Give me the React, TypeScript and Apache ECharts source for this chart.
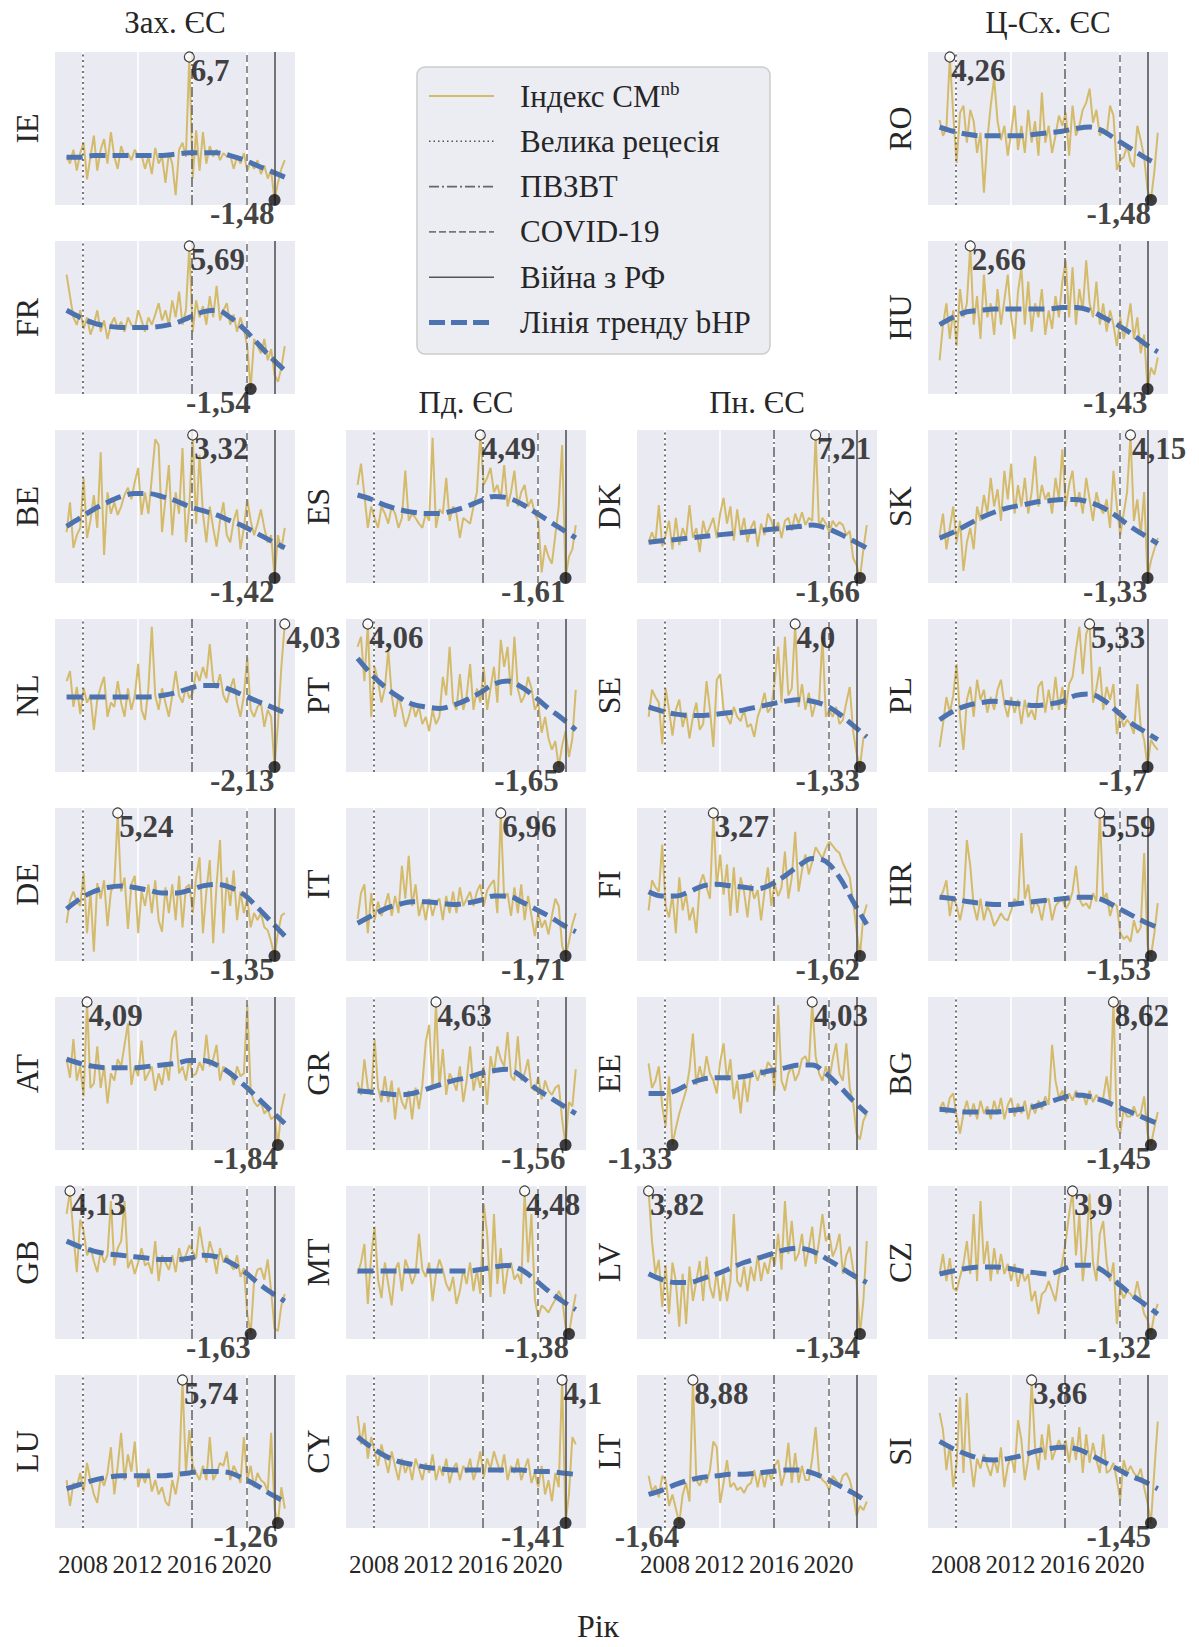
import React, { useEffect, useRef } from 'react';
import * as echarts from 'echarts';

const SERIF = '"Liberation Serif", "Times New Roman", serif';

// Time axis: quarterly observations and yearly trend knots
const QUARTERS: number[] = Array.from({ length: 65 }, (_, i) => 2006.8 + 0.25 * i);
const TREND_YEARS: number[] = Array.from({ length: 17 }, (_, i) => 2006.8 + i);
const TICK_YEARS = [2008, 2012, 2016, 2020];
const X_MIN = 2005.95;
const X_MAX = 2023.55;

// Event markers
const RECESSION_YEAR = 2008.0;
const PVZVT_YEAR = 2016.0;
const COVID_YEAR = 2020.0;
const WAR_YEAR = 2022.05;

// ---- Western EU ----
const IE = [1.0,0.6,1.4,0.2,1.2,1.8,-0.3,1.0, 2.2,0.2,1.4,2.0,0.6,2.4,1.0,0.3, 1.6,1.0,1.2,0.8,1.4,1.0,1.1,0.3, 1.0,0.0,1.5,0.6,1.0,-0.5,1.2,0.6, -1.2,1.4,1.8,1.0,6.7,-0.25,2.5,0.2, 2.4,0.6,1.6,1.0,1.4,0.8,1.2,1.0, 1.1,0.3,1.0,0.6,1.2,0.2,0.7,0.3, 0.8,0.0,0.5,-0.25,0.2,-1.48,-0.5,0.3, 0.8];
const IE_T = [0.97,0.97,1.06,1.06,1.06,1.06,1.06,1.06,1.14,1.22,1.22,1.22,1.06,0.81,0.48,0.16,-0.17];
const FR = [4.24,3.16,2.08,1.71,2.44,1.5,2.08,1.21, 1.71,2.44,1.35,1.93,0.99,1.71,2.08,1.5, 1.86,1.35,2.08,1.71,1.5,2.44,1.93,1.35, 2.08,1.71,2.22,2.8,1.93,2.44,1.71,2.94, 2.08,3.38,1.71,2.44,5.69,1.35,2.94,2.08, 2.65,1.71,3.16,2.08,3.67,1.93,2.44,2.8, 1.71,2.22,1.35,2.08,1.5,0.63,-1.54,0.99, 0.63,0.27,0.99,-0.09,0.48,-0.82,-1.18,-0.46, 0.63];
const FR_T = [2.44,2.08,1.79,1.64,1.57,1.57,1.57,1.64,1.79,2.08,2.36,2.44,2.08,1.5,0.77,0.05,-0.6];
const BE = [0.1,1.09,-0.42,0.0,0.24,1.9,-0.09,0.48, 1.33,0.24,2.75,-0.66,1.42,0.71,1.09,0.67, 0.95,1.33,1.57,1.19,1.76,2.23,0.67,1.42, 0.71,1.9,3.18,2.99,0.1,1.19,2.32,0.0, 1.42,0.71,2.89,-0.24,0.95,3.32,0.38,2.66, 0.71,-0.24,0.95,0.24,-0.38,0.48,1.09,0.0, -0.24,0.48,0.85,-0.47,0.24,1.19,0.48,0.0, 0.38,0.85,0.24,-0.24,0.0,-1.42,0.0,-0.47, 0.24];
const BE_T = [0.29,0.57,0.86,1.09,1.28,1.38,1.38,1.28,1.14,0.95,0.81,0.67,0.48,0.29,0.05,-0.19,-0.42];
const NL = [1.57,2.0,0.46,1.32,0.15,1.26,0.64,0.95, -0.53,0.77,1.32,1.75,0.03,0.64,0.46,1.57, 0.64,0.03,1.26,0.33,0.95,2.31,0.33,-0.1, 1.26,3.91,0.95,0.33,1.26,0.64,0.03,0.95, 2.0,0.95,0.64,1.32,0.83,1.07,2.0,1.57, 2.18,1.69,3.17,1.57,1.26,1.87,0.95,0.64, 1.26,1.69,0.64,0.03,0.95,2.61,0.33,0.03, 0.46,0.64,-0.4,0.33,0.03,-2.13,-0.28,2.18, 4.03];
const NL_T = [0.89,0.89,0.89,0.89,0.89,0.89,0.89,0.95,1.07,1.26,1.38,1.38,1.2,0.95,0.7,0.46,0.21];
const DE = [0.17,1.22,1.62,1.15,0.96,2.47,-0.3,1.62, -1.15,2.01,1.29,2.14,0.03,1.62,1.95,5.24, 1.62,2.27,-0.1,1.95,2.34,-0.3,1.62,0.96, 1.95,0.63,2.14,0.3,-0.23,1.81,0.63,1.95, 0.3,2.34,-0.03,1.81,1.95,0.63,2.27,3.2, -0.3,1.62,3.07,-0.76,1.95,3.99,-0.3,2.27, 0.96,2.6,0.3,1.62,0.63,1.29,-0.03,0.63, 0.3,0.63,-0.03,-0.16,-0.69,-1.35,-0.3,0.5, 0.63];
const DE_T = [0.82,1.29,1.62,1.81,1.88,1.81,1.68,1.55,1.55,1.68,1.88,1.95,1.81,1.48,0.89,0.23,-0.43];
const AT = [1.72,0.95,2.55,0.83,1.42,0.18,4.09,0.53, 0.71,2.25,0.53,1.42,-0.12,1.13,0.83,1.72, 1.42,2.31,3.2,0.65,1.42,1.01,2.49,0.83, 1.13,1.42,0.41,1.13,0.65,1.6,0.83,2.55, 2.9,1.13,1.42,0.83,1.72,1.01,1.13,1.6, 1.24,2.73,1.42,1.72,2.31,0.83,1.42,1.13, 1.24,0.65,1.42,1.01,1.13,3.97,0.41,-0.06, -0.24,-0.06,-0.54,-0.36,-0.77,-0.65,-1.84,-0.36, 0.29];
const AT_T = [1.72,1.54,1.42,1.36,1.36,1.36,1.42,1.48,1.54,1.66,1.66,1.48,1.13,0.65,0.12,-0.42,-0.95];
const GB = [3.21,4.13,2.4,0.86,2.98,2.52,1.54,1.83, 1.31,0.86,1.71,1.25,1.54,3.73,1.13,1.83, 2.11,3.73,1.02,1.37,0.79,1.25,1.83,1.13, 1.25,0.79,2.11,0.5,1.54,1.25,0.96,1.54, 0.86,1.83,1.25,1.54,1.94,1.71,1.42,2.69, 1.83,1.25,2.11,1.6,0.79,1.83,1.25,1.54, 1.19,0.96,1.54,0.67,1.02,-0.82,-1.63,0.5, 0.96,1.02,0.56,1.37,0.1,-1.4,-1.51,-0.48, -0.02];
const GB_T = [2.11,1.88,1.71,1.6,1.54,1.48,1.42,1.37,1.37,1.42,1.54,1.48,1.25,0.9,0.44,0.04,-0.31];
const LU = [0.84,-0.42,0.7,0.49,1.19,0.28,1.68,0.84, 0.14,-0.28,0.98,0.56,1.19,2.45,0.14,1.54, 3.15,0.84,2.1,1.26,2.73,0.49,1.19,0.7, 1.4,0.28,0.84,0.14,0.49,-0.21,-0.42,0.84, 0.14,1.19,5.74,1.19,3.29,1.54,1.19,0.84, 1.54,0.84,2.94,0.84,1.19,1.68,1.54,2.24, 0.84,1.54,1.19,0.7,2.94,0.84,1.54,0.49, 1.19,0.84,0.7,0.28,3.15,-0.56,-1.26,0.49, -0.56];
const LU_T = [0.42,0.63,0.84,0.98,1.05,1.05,1.05,1.05,1.12,1.19,1.26,1.26,1.19,0.91,0.56,0.14,-0.21];

// ---- Southern EU ----
const ES = [2.36,3.27,1.93,0.53,1.44,0.95,0.53,1.44, 1.14,0.71,1.44,1.14,0.53,0.95,2.97,0.83, 1.14,0.95,0.71,0.53,1.14,0.83,4.37,0.53, 1.32,1.14,2.66,0.83,1.44,1.14,0.1,0.95, 0.83,0.71,1.44,2.05,4.49,2.36,2.66,3.09, 2.05,2.36,1.75,3.21,1.44,2.05,2.97,1.44, 2.05,2.36,1.44,1.75,1.14,0.83,-1.37,-0.21, -0.7,-1.0,0.22,1.44,4.06,-1.61,-0.7,-0.39, 0.65];
const ES_T = [1.93,1.75,1.5,1.32,1.2,1.14,1.14,1.26,1.44,1.68,1.87,1.81,1.56,1.2,0.83,0.46,0.1];
const PT = [3.15,3.55,1.78,4.06,0.35,2.35,1.78,0.92, 1.49,3.03,1.21,0.35,1.21,0.63,-0.05,0.35, 0.92,0.35,0.75,0.06,0.35,-0.22,0.63,0.06, 0.35,1.95,1.21,3.15,0.92,0.63,2.06,0.63, 1.21,2.46,0.63,1.49,0.92,2.35,0.63,1.49, 2.35,0.92,3.43,2.35,3.15,1.21,3.55,1.49, 0.92,1.21,1.95,1.49,0.63,0.92,-0.28,0.35, -0.51,-0.96,-0.62,-1.65,-0.79,-0.22,-1.25,-0.51, 1.43];
const PT_T = [2.69,2.06,1.55,1.15,0.86,0.75,0.69,0.81,1.03,1.32,1.66,1.78,1.55,1.15,0.69,0.29,-0.17];
const IT = [0.54,2.1,2.63,-0.32,2.1,0.46,1.58,0.72, 1.32,2.1,0.72,1.93,0.89,3.75,1.76,4.36, 1.32,2.63,0.72,1.58,0.46,1.76,0.72,1.58, 1.76,0.46,1.93,0.89,2.19,0.89,2.45,1.32, 1.76,2.19,1.32,2.19,2.63,1.32,2.28,2.63, 2.89,0.89,6.96,1.76,2.1,0.72,2.45,0.89, 2.63,0.46,1.93,0.72,-0.5,0.89,0.02,0.46, -0.41,0.72,1.76,1.32,-1.1,-1.71,-0.84,0.2, 0.89];
const IT_T = [0.28,0.72,1.15,1.41,1.58,1.58,1.5,1.41,1.5,1.67,1.93,1.93,1.58,1.15,0.72,0.2,-0.24];
const GR = [1.16,0.61,2.15,0.92,0.61,3.02,0.92,0.3, 1.41,0.3,1.23,-0.45,0.92,0.3,-0.01,0.79, -0.45,0.92,-0.01,1.04,2.9,3.64,0.92,4.63, 0.92,2.59,0.61,1.54,1.23,0.79,1.84,0.3, 1.23,2.71,0.79,1.54,0.92,1.84,0.17,2.28, 1.54,2.71,2.15,1.84,3.33,1.41,1.23,3.14, 1.23,1.54,2.15,0.92,0.79,1.41,0.42,1.23, 0.79,0.61,0.92,1.04,-0.45,-1.56,0.3,0.11, 1.72];
const GR_T = [0.79,0.73,0.67,0.61,0.67,0.85,1.04,1.23,1.35,1.54,1.66,1.72,1.41,0.92,0.54,0.17,-0.2];
const MT = [1.08,1.55,2.31,-0.15,1.84,3.02,0.85,0.09, 1.55,0.67,-0.21,1.26,1.55,0.38,1.67,1.26, 0.67,1.08,2.72,1.26,0.96,1.55,-0.03,1.08, 1.67,1.26,0.67,0.38,0.96,-0.15,0.38,1.26, 0.67,1.55,0.38,1.26,0.26,3.95,2.72,0.14, 3.54,0.67,2.14,0.26,1.26,1.55,0.85,1.08, 0.67,4.48,1.55,3.54,0.03,-0.68,-0.21,-0.33, -0.5,-0.21,0.03,0.38,0.09,-1.09,-1.38,-0.5, 0.26];
const MT_T = [1.2,1.2,1.2,1.2,1.2,1.2,1.2,1.2,1.2,1.26,1.37,1.43,1.26,0.85,0.38,-0.03,-0.38];
const CY = [2.72,1.62,2.45,1.07,1.9,1.35,0.79,1.62, 1.07,0.52,1.35,0.79,0.24,1.07,0.52,0.9, 0.24,1.07,0.68,0.24,0.9,0.52,1.23,0.24, 0.79,0.41,1.07,0.13,0.68,0.9,0.24,0.79, 0.52,1.07,0.24,0.68,1.35,0.35,1.07,0.68, 1.35,0.9,0.52,1.23,0.24,0.79,0.52,1.07, 0.24,0.68,1.07,0.13,0.52,-0.03,0.79,-0.31, 0.24,-0.58,0.52,-0.03,4.1,-1.41,-0.31,1.9, 1.62];
const CY_T = [1.9,1.51,1.18,0.96,0.85,0.74,0.68,0.63,0.63,0.63,0.63,0.63,0.63,0.57,0.57,0.52,0.46];

// ---- Northern EU ----
const DK = [0.56,1.18,0.56,2.86,0.29,1.0,1.89,0.11, 2.07,0.38,1.44,0.82,2.86,0.82,1.44,-0.06, 1.89,1.0,1.53,2.07,0.82,2.33,3.31,1.71, 2.78,0.65,2.6,1.0,2.07,0.56,1.44,1.89, 0.29,1.71,1.0,2.33,1.89,1.18,1.8,0.82, 1.89,2.07,1.27,2.33,1.71,2.42,1.62,2.07, 1.89,7.21,1.44,2.07,1.71,1.18,1.89,1.53, 1.8,1.62,1.0,1.27,-0.42,-0.86,-1.66,0.11, 1.62];
const DK_T = [0.56,0.65,0.73,0.82,0.91,1.0,1.09,1.18,1.27,1.36,1.44,1.53,1.62,1.44,1.09,0.65,0.2];
const SE = [0.54,1.55,1.28,1.07,-0.48,1.6,0.8,-0.16, 0.8,1.18,0.16,0.7,-0.26,0.54,1.07,0.06, 0.27,1.87,0.8,-0.58,1.92,2.13,0.8,0.54, 0.27,0.91,0.54,0.38,0.8,0.16,0.27,-0.21, 0.54,0.91,1.44,0.7,0.91,1.87,3.15,1.07, 3.52,1.34,1.6,4.0,0.91,1.76,0.8,1.44, 0.54,1.07,1.07,3.52,0.54,0.8,0.54,0.91, 0.27,0.43,1.07,1.65,0.0,-0.8,-1.33,-0.26, -0.1];
const SE_T = [0.91,0.75,0.64,0.59,0.59,0.64,0.7,0.8,0.91,1.02,1.12,1.18,1.12,0.96,0.64,0.22,-0.21];
const FI = [-0.06,0.97,0.73,0.58,2.19,0.09,-0.3,0.48, -0.84,1.07,-0.06,0.48,-0.4,0.04,-0.84,0.83, 1.17,0.73,0.34,3.27,0.73,1.85,0.48,1.51, -0.25,1.41,-0.15,1.07,0.58,-0.3,0.83,0.34, 0.63,-0.4,0.58,1.41,0.09,0.83,0.43,0.73, 1.95,0.34,1.07,2.63,0.58,1.31,1.85,1.17, 1.61,2.1,1.9,1.71,2.05,2.29,2.15,2.0, 1.9,1.56,1.31,1.07,0.24,-0.74,-1.62,-0.25, 0.14];
const FI_T = [0.58,0.43,0.43,0.58,0.78,0.83,0.78,0.73,0.68,0.83,1.12,1.46,1.71,1.61,1.07,0.24,-0.54];
const EE = [1.73,0.81,1.08,1.62,0.12,-0.63,1.24,-1.33, -0.69,-0.15,0.28,0.71,1.51,2.85,0.92,1.62, 1.08,2.0,1.35,1.08,0.6,1.78,2.48,1.08, 1.89,0.39,1.08,-0.15,1.19,0.28,1.35,1.46, 1.08,1.51,1.24,1.78,1.62,0.71,3.92,1.08, 0.71,1.35,1.62,1.08,1.35,1.89,2.0,1.62, 4.03,2.0,1.35,1.08,1.62,1.08,1.89,2.48, 1.35,1.08,2.48,0.81,0.28,-0.9,-1.12,-0.42, -0.15];
const EE_T = [0.6,0.6,0.71,0.97,1.14,1.19,1.19,1.24,1.35,1.46,1.56,1.67,1.67,1.35,0.87,0.33,-0.15];
const LV = [3.82,2.01,0.83,1.34,-0.36,1.14,-0.62,1.24, 0.57,-1.08,0.83,-0.98,1.09,-0.15,0.57,1.29, -0.15,1.45,0.36,-0.05,0.93,-0.15,0.83,-0.15, 0.57,2.99,0.57,0.36,1.09,0.21,1.09,0.57, 1.5,0.57,1.24,0.83,1.55,1.14,2.27,0.98, 3.46,1.55,2.74,1.29,1.55,2.27,1.09,1.76, 2.53,1.19,2.01,2.99,2.01,2.27,1.45,1.76, 2.27,0.83,1.5,1.81,0.98,0.57,-1.34,-0.15, 2.01];
const LV_T = [0.83,0.62,0.52,0.52,0.67,0.83,1.03,1.24,1.39,1.55,1.7,1.76,1.65,1.39,1.09,0.78,0.52];
const LT = [1.83,0.67,1.1,0.25,1.83,1.52,-0.38,0.46, -0.59,-1.64,0.46,1.31,-0.06,8.88,1.52,1.1, 1.83,1.31,2.25,4.36,3.94,-0.17,1.31,2.99, 0.99,1.31,0.78,0.99,0.57,1.1,1.31,2.25, 0.99,2.25,0.99,2.25,1.52,2.57,2.99,1.1, 2.04,4.25,1.31,3.51,1.31,2.57,1.52,1.52, 3.09,5.41,2.04,1.52,1.31,0.78,1.83,1.52, 1.1,1.83,2.04,1.52,0.46,-1.11,-0.38,-0.69, -0.06];
const LT_T = [0.46,0.78,1.2,1.52,1.73,1.83,1.94,1.94,2.04,2.15,2.25,2.25,2.04,1.62,1.1,0.57,-0.06];

// ---- Central-Eastern EU ----
const RO = [1.73,1.1,1.39,4.26,1.96,0.01,2.02,2.31, 0.82,2.14,1.68,0.41,1.22,-1.19,0.93,2.31, 3.4,1.68,0.93,1.5,0.3,1.22,2.31,0.53, 1.5,0.41,2.14,0.82,1.68,0.3,2.83,0.82, 1.5,0.41,1.1,1.91,1.5,2.02,0.3,2.31, 1.1,1.5,2.14,2.42,2.99,1.62,2.14,1.1, 1.39,1.1,2.31,1.91,-0.27,0.13,0.24,0.7, 0.07,-0.16,1.5,0.93,0.24,-1.08,-1.48,-0.33, 1.22];
const RO_T = [1.45,1.28,1.16,1.1,1.1,1.1,1.1,1.16,1.22,1.28,1.39,1.45,1.28,0.93,0.59,0.24,-0.05];
const HU = [-0.61,0.41,1.02,0.0,0.82,-0.2,1.43,0.62, 1.02,2.66,0.41,1.23,0.0,1.84,0.62,1.02, 0.12,1.43,0.41,1.11,1.84,0.62,0.0,1.35, 2.05,0.41,1.64,0.21,1.02,0.62,1.43,0.12, 0.82,0.29,1.23,0.62,1.64,2.25,0.62,2.05, 0.41,1.43,0.82,2.25,1.02,0.62,1.64,0.41, 1.02,0.21,0.82,0.41,-0.2,0.62,0.0,0.41, 1.02,0.0,0.62,-0.41,0.12,-1.43,-0.82,-1.02, -0.53];
const HU_T = [0.41,0.62,0.78,0.82,0.86,0.86,0.86,0.86,0.86,0.9,0.9,0.82,0.62,0.41,0.17,-0.12,-0.37];
const SK = [0.31,1.14,-0.23,0.59,1.41,0.04,0.86,-1.06, 0.04,0.59,-0.23,1.41,0.86,1.85,1.14,2.51, 1.41,2.07,0.86,2.78,1.68,3.05,1.14,2.23, 1.41,2.51,1.14,1.96,3.33,1.41,2.23,1.68, 1.96,1.14,2.51,1.68,3.6,1.41,2.23,2.78, 1.41,1.96,1.14,2.51,1.68,0.86,1.96,1.41, 1.14,1.68,0.59,2.78,1.41,0.31,1.14,1.96, 4.15,0.86,1.68,0.31,1.96,-1.33,-0.67,-0.23, 0.2];
const SK_T = [0.2,0.42,0.7,0.97,1.19,1.36,1.46,1.57,1.63,1.68,1.68,1.57,1.36,1.03,0.64,0.31,-0.01];
const PL = [-0.72,0.41,1.74,0.97,1.82,3.36,0.76,-0.86, 1.6,2.24,0.76,2.59,1.6,2.1,0.97,1.74, 1.11,2.1,2.59,1.39,0.76,1.74,0.97,1.6, 0.41,1.6,0.76,1.11,0.62,2.24,2.52,0.97, 2.1,1.11,2.73,1.11,2.24,1.11,2.38,2.73, 4.06,5.19,2.87,4.84,5.33,1.46,2.17,3.22, 1.11,2.24,1.6,2.38,-0.08,0.9,0.27,0.62, 0.41,-0.08,2.38,0.27,-0.36,-1.7,-0.36,-0.65, -0.86];
const PL_T = [0.62,1.04,1.32,1.46,1.53,1.46,1.39,1.32,1.39,1.53,1.82,1.89,1.6,1.04,0.48,0.06,-0.36];
const HR = [1.32,1.67,2.24,0.46,1.46,0.96,0.25,1.1, 4.24,2.96,0.96,0.25,1.32,0.25,0.96,0.6, -0.03,0.25,0.6,0.32,0.25,0.75,1.32,1.1, 4.59,1.32,2.03,0.6,1.18,0.96,0.25,1.18, 1.32,0.25,0.96,1.18,1.32,0.82,1.1,1.67, 2.96,1.32,0.96,1.1,0.82,1.6,1.18,5.59, 1.32,1.6,0.46,1.1,0.96,-0.39,-0.68,-0.53, -0.82,0.25,-0.39,-0.11,3.6,-1.03,-1.53,-0.39, 1.1];
const HR_T = [1.39,1.32,1.18,1.1,1.03,1.03,1.1,1.18,1.25,1.32,1.39,1.39,1.25,0.89,0.53,0.18,-0.11];
const BG = [1.07,1.57,0.77,1.87,2.18,0.56,-0.64,0.77, 1.67,0.56,1.47,0.36,1.67,0.77,1.27,0.36, 1.67,0.77,1.87,0.36,1.37,1.87,0.56,1.47, 0.77,1.67,0.36,1.47,0.77,1.67,1.07,1.97, 1.37,5.6,3.08,1.87,2.38,1.57,2.18,1.67, 2.38,1.87,2.18,1.37,2.38,1.57,2.07,1.67, 1.87,3.38,1.57,8.62,-0.14,-0.64,1.07,0.56, 0.56,1.27,0.56,0.77,1.97,-0.64,-1.45,-0.24, 0.87];
const BG_T = [1.07,0.97,0.87,0.87,0.87,0.97,1.07,1.27,1.57,1.87,2.07,1.97,1.67,1.27,0.87,0.46,0.06];
const CZ = [0.87,1.6,0.61,1.45,0.35,0.25,0.77,1.24, 2.07,0.87,3.06,0.61,3.53,1.24,2.07,0.61, 1.81,0.87,1.6,0.87,1.24,0.61,1.24,0.4, 1.03,0.61,0.87,-0.12,0.25,-0.59,0.14,0.25, 0.61,0.25,-0.12,0.77,1.29,2.07,3.06,3.9, 1.55,3.06,0.61,1.81,3.8,1.29,0.61,2.33, 2.8,1.29,0.61,1.29,-0.95,0.35,-0.02,0.25, 0.14,-0.02,0.61,-0.02,-0.59,-0.8,-1.32,-0.59, -0.22];
const CZ_T = [0.87,0.98,1.08,1.13,1.13,1.08,0.98,0.92,0.87,1.03,1.19,1.19,0.98,0.56,0.14,-0.22,-0.59];
const SI = [2.64,2.0,0.51,1.47,-0.12,0.78,3.22,0.41, 3.38,0.94,-0.12,0.94,0.57,1.1,0.67,0.3, 0.94,0.41,1.36,-0.12,0.67,1.05,0.41,2.37, 1.63,0.14,0.94,3.86,1.36,0.51,1.84,0.89, 2.21,0.89,1.26,1.63,1.26,1.63,0.78,1.74, 0.89,2.11,0.41,1.84,0.78,1.52,0.89,0.41, 1.84,0.41,0.51,0.78,0.14,-0.6,0.89,0.41, 0.67,0.41,0.25,0.57,-0.12,-0.71,-1.45,0.51, 2.32];
const SI_T = [1.58,1.31,1.1,0.94,0.89,0.94,1.05,1.21,1.31,1.36,1.31,1.1,0.83,0.57,0.3,0.09,-0.18];

const GROUP_TITLES = ['Зах. ЄС', 'Пд. ЄС', 'Пн. ЄС', 'Ц-Сх. ЄС'];
const LEGEND_LABELS = ['Індекс CM{s|nb}', 'Велика рецесія', 'ПВЗВТ', 'COVID-19', 'Війна з РФ', 'Лінія тренду bHP'];
const X_LABEL = 'Рік';

const PANELS = [
  { code: 'IE', col: 0, row: 0, v: IE, t: IE_T },
  { code: 'FR', col: 0, row: 1, v: FR, t: FR_T },
  { code: 'BE', col: 0, row: 2, v: BE, t: BE_T },
  { code: 'NL', col: 0, row: 3, v: NL, t: NL_T },
  { code: 'DE', col: 0, row: 4, v: DE, t: DE_T },
  { code: 'AT', col: 0, row: 5, v: AT, t: AT_T },
  { code: 'GB', col: 0, row: 6, v: GB, t: GB_T },
  { code: 'LU', col: 0, row: 7, v: LU, t: LU_T },
  { code: 'ES', col: 1, row: 2, v: ES, t: ES_T },
  { code: 'PT', col: 1, row: 3, v: PT, t: PT_T },
  { code: 'IT', col: 1, row: 4, v: IT, t: IT_T },
  { code: 'GR', col: 1, row: 5, v: GR, t: GR_T },
  { code: 'MT', col: 1, row: 6, v: MT, t: MT_T },
  { code: 'CY', col: 1, row: 7, v: CY, t: CY_T },
  { code: 'DK', col: 2, row: 2, v: DK, t: DK_T },
  { code: 'SE', col: 2, row: 3, v: SE, t: SE_T },
  { code: 'FI', col: 2, row: 4, v: FI, t: FI_T },
  { code: 'EE', col: 2, row: 5, v: EE, t: EE_T },
  { code: 'LV', col: 2, row: 6, v: LV, t: LV_T },
  { code: 'LT', col: 2, row: 7, v: LT, t: LT_T },
  { code: 'RO', col: 3, row: 0, v: RO, t: RO_T },
  { code: 'HU', col: 3, row: 1, v: HU, t: HU_T },
  { code: 'SK', col: 3, row: 2, v: SK, t: SK_T },
  { code: 'PL', col: 3, row: 3, v: PL, t: PL_T },
  { code: 'HR', col: 3, row: 4, v: HR, t: HR_T },
  { code: 'BG', col: 3, row: 5, v: BG, t: BG_T },
  { code: 'CZ', col: 3, row: 6, v: CZ, t: CZ_T },
  { code: 'SI', col: 3, row: 7, v: SI, t: SI_T },
];

// Layout
const COL_LEFT = [55, 346, 637, 928];
const PANEL_W = 240;
const ROW_TOP0 = 52;
const ROW_STEP = 189;
const PANEL_H = 153;
const Y_PAD = 0.035;

const GOLD = '#d4bb6c';
const BLUE = '#4c72b0';
const BG_PANEL = '#EAEAF2';

const EVENT_STYLES = [
  { year: RECESSION_YEAR, color: '#555', type: [2, 3.5] as any },
  { year: PVZVT_YEAR, color: '#666', type: [10, 3, 2, 3] as any },
  { year: COVID_YEAR, color: '#777', type: [7, 4] as any },
  { year: WAR_YEAR, color: '#555', type: 'solid' as any },
];

function fmt(v: number): string {
  const s = Number.isInteger(v) ? v.toFixed(1) : String(v);
  return s.replace('.', ',');
}

function buildOption(): any {
  const grid: any[] = [];
  const xAxis: any[] = [];
  const yAxis: any[] = [];
  const series: any[] = [];

  PANELS.forEach((p, i) => {
    const isBottom = p.row === 7;
    grid.push({
      left: COL_LEFT[p.col], top: ROW_TOP0 + ROW_STEP * p.row,
      width: PANEL_W, height: PANEL_H,
      show: true, backgroundColor: BG_PANEL, borderWidth: 0, borderColor: 'transparent',
    });
    xAxis.push({
      type: 'value', gridIndex: i, min: X_MIN, max: X_MAX,
      axisLine: { show: false },
      axisTick: { show: false, customValues: TICK_YEARS },
      axisLabel: {
        show: isBottom, customValues: TICK_YEARS, margin: 24,
        fontSize: 25, fontFamily: SERIF, color: '#262626',
        formatter: (v: number) => String(v),
      },
      splitLine: { show: true, lineStyle: { color: '#ffffff', width: 1.6 } },
    });
    yAxis.push({
      type: 'value', gridIndex: i,
      min: (e: any) => e.min - Y_PAD * (e.max - e.min),
      max: (e: any) => e.max + Y_PAD * (e.max - e.min),
      name: p.code, nameLocation: 'middle', nameGap: 12, nameRotate: 90,
      nameTextStyle: { fontSize: 32, fontFamily: SERIF, color: '#262626' },
      axisLine: { show: false }, axisTick: { show: false },
      axisLabel: { show: false }, splitLine: { show: false },
    });

    const data = QUARTERS.map((x, k) => [x, p.v[k]]);
    series.push({
      type: 'line', xAxisIndex: i, yAxisIndex: i, data,
      symbol: 'none', showSymbol: false, z: 2,
      lineStyle: { color: GOLD, width: 2 },
      markLine: {
        silent: true, symbol: ['none', 'none'], animation: false,
        label: { show: false }, emphasis: { disabled: true },
        data: EVENT_STYLES.map((e) => ({ xAxis: e.year, lineStyle: { color: e.color, width: 1.6, type: e.type } })),
      },
    });
    series.push({
      type: 'line', xAxisIndex: i, yAxisIndex: i,
      data: TREND_YEARS.map((x, k) => [x, p.t[k]]),
      smooth: 0.35, symbol: 'none', showSymbol: false, z: 4,
      lineStyle: { color: BLUE, width: 5, type: [16, 7] },
    });

    let iMax = 0, iMin = 0;
    p.v.forEach((val, k) => {
      if (val > p.v[iMax]) iMax = k;
      if (val < p.v[iMin]) iMin = k;
    });
    const labelBase = { show: true, fontSize: 31, fontWeight: 'bold', fontFamily: SERIF, color: '#111' };
    series.push({
      type: 'scatter', xAxisIndex: i, yAxisIndex: i, z: 6, clip: false,
      data: [
        {
          value: [QUARTERS[iMax], p.v[iMax]], symbol: 'circle', symbolSize: 10,
          itemStyle: { color: '#ffffff', borderColor: '#111', borderWidth: 1.2 },
          label: { ...labelBase, formatter: fmt(p.v[iMax]), position: [7, 4], align: 'left', verticalAlign: 'top' },
        },
        {
          value: [QUARTERS[iMin], p.v[iMin]], symbol: 'circle', symbolSize: 12,
          itemStyle: { color: '#111' },
          label: { ...labelBase, formatter: fmt(p.v[iMin]), position: [6, 4], align: 'right', verticalAlign: 'top' },
        },
      ],
    });
  });

  const graphic: any[] = [];
  // group titles
  const titlePos = [
    { col: 0, y: 22 }, { col: 1, y: 402 }, { col: 2, y: 402 }, { col: 3, y: 22 },
  ];
  titlePos.forEach((t, i) => {
    graphic.push({
      type: 'text', x: COL_LEFT[t.col] + PANEL_W / 2, y: t.y, z: 20,
      style: { text: GROUP_TITLES[i], fontSize: 31, fontFamily: SERIF, fill: '#262626', align: 'center', verticalAlign: 'middle' },
    });
  });
  graphic.push({
    type: 'text', x: 598, y: 1626, z: 20,
    style: { text: X_LABEL, fontSize: 32, fontFamily: SERIF, fill: '#262626', align: 'center', verticalAlign: 'middle' },
  });

  // legend
  graphic.push({
    type: 'rect', z: 20, shape: { x: 417, y: 67, width: 353, height: 287, r: 8 },
    style: { fill: '#ECECF3', stroke: '#cccccc', lineWidth: 1.5 },
  });
  const legendLines = [
    { stroke: GOLD, lineWidth: 2, lineDash: null },
    { stroke: '#555', lineWidth: 1.6, lineDash: [1.5, 3] },
    { stroke: '#666', lineWidth: 1.6, lineDash: [10, 3, 2, 3] },
    { stroke: '#777', lineWidth: 1.6, lineDash: [7, 3] },
    { stroke: '#555', lineWidth: 1.6, lineDash: null },
    { stroke: BLUE, lineWidth: 5, lineDash: [16, 6] },
  ];
  LEGEND_LABELS.forEach((lab, i) => {
    const y = 96 + 45.3 * i;
    const ls = legendLines[i];
    graphic.push({
      type: 'line', z: 21, shape: { x1: 429, y1: y, x2: 494, y2: y },
      style: { stroke: ls.stroke, lineWidth: ls.lineWidth, lineDash: ls.lineDash || undefined },
    });
    graphic.push({
      type: 'text', z: 21, x: 520, y: y,
      style: {
        text: lab, fontSize: 31, fontFamily: SERIF, fill: '#262626', align: 'left', verticalAlign: 'middle',
        rich: { s: { fontSize: 19, fontFamily: SERIF, fill: '#262626', verticalAlign: 'top', lineHeight: 34 } },
      },
    });
  });

  return { animation: false, backgroundColor: '#ffffff', grid, xAxis, yAxis, series, graphic };
}

export default function App() {
  const ref = useRef<HTMLDivElement>(null);
  useEffect(() => {
    document.body.style.margin = '0';
    const chart = echarts.init(ref.current as HTMLDivElement, null, { renderer: 'svg' });
    chart.setOption(buildOption());
    return () => chart.dispose();
  }, []);
  return <div ref={ref} style={{ width: 1199, height: 1647 }} />;
}
